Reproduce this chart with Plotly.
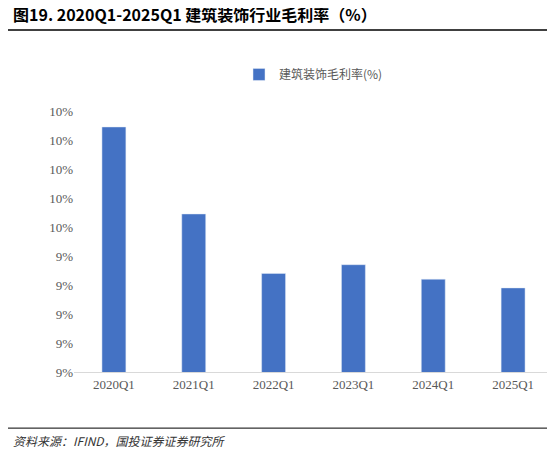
import plotly.graph_objects as go

quarters = ['2020Q1', '2021Q1', '2022Q1', '2023Q1', '2024Q1', '2025Q1']
margin_rate = [9.845, 9.545, 9.34, 9.37, 9.32, 9.29]
tick_vals = [9.0, 9.1, 9.2, 9.3, 9.4, 9.5, 9.6, 9.7, 9.8, 9.9]
tick_text = ['9%', '9%', '9%', '9%', '9%', '10%', '10%', '10%', '10%', '10%']

fig = go.Figure()
fig.add_trace(go.Bar(x=quarters, y=margin_rate, name='建筑装饰毛利率(%)',
                     marker_color='#4472C4', width=0.3))

fig.update_layout(
    width=555, height=456,
    margin=dict(l=66, r=10, t=103, b=92),
    plot_bgcolor='white', paper_bgcolor='white',
    font=dict(family='Liberation Serif', size=13, color='#595959'),
    showlegend=True,
    legend=dict(orientation='h', x=0.5, xanchor='center', y=1.14, yanchor='middle',
                font=dict(family='Noto Sans CJK SC', size=12, color='#595959')),
    xaxis=dict(showline=True, linecolor='#D9D9D9', ticks='', showgrid=False),
    yaxis=dict(range=[9.0, 9.9], tickvals=tick_vals, ticktext=tick_text,
               showgrid=False, zeroline=False, showline=False),
    shapes=[
        dict(type='line', xref='paper', yref='paper', x0=-0.1426, x1=1.021,
             y0=1.31, y1=1.31, line=dict(color='black', width=1.5)),
        dict(type='line', xref='paper', yref='paper', x0=-0.1426, x1=1.021,
             y0=-0.215, y1=-0.215, line=dict(color='black', width=1)),
    ],
    annotations=[
        dict(text='<b>图19. 2020Q1-2025Q1 建筑装饰行业毛利率（%）</b>', xref='paper', yref='paper',
             x=-0.132, y=1.372, xanchor='left', yanchor='middle', showarrow=False,
             font=dict(family='Noto Sans CJK SC', size=16, color='black')),
        dict(text='<i>资料来源：IFIND，国投证券证券研究所</i>', xref='paper', yref='paper',
             x=-0.132, y=-0.262, xanchor='left', yanchor='middle', showarrow=False,
             font=dict(family='Noto Sans CJK SC', size=12, color='#333333')),
    ],
)

fig.write_html('out.html')
